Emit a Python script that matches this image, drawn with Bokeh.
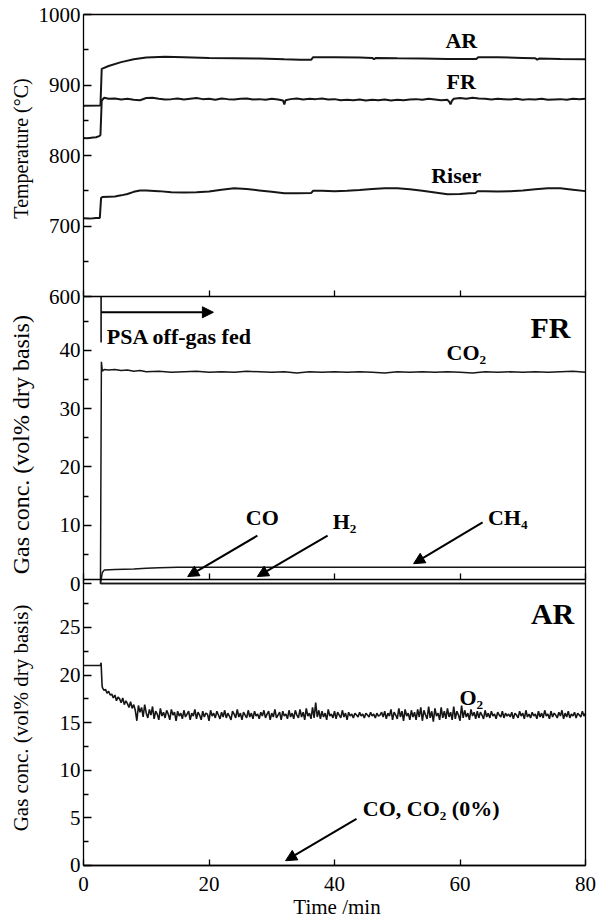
import math
from bokeh.plotting import figure
from bokeh.models import Range1d, LinearAxis, FixedTicker, Label, Arrow, NormalHead
from bokeh.embed import file_html
from bokeh.resources import INLINE

FONT = "Liberation Serif"
INK = "#161616"

# ---------------- ticks / labels ----------------
TIME_TICKS = [0, 20, 40, 60, 80]
TEMP_TICKS = [600, 700, 800, 900, 1000]
TEMP_MINOR = [650, 750, 850, 950]
FR_TICKS = [0, 10, 20, 30, 40]
FR_MINOR = [5, 15, 25, 35, 45]
AR_TICKS = [0, 5, 10, 15, 20, 25]
AR_MINOR = [2.5, 7.5, 12.5, 17.5, 22.5, 27.5]
X_TITLE = "Time /min"
TEMP_TITLE = "Temperature (\u00b0C)"
GAS_TITLE = "Gas conc. (vol% dry basis)"

# ---------------- panel 1: temperatures (deg C) ----------------
AR_TEMP_TIME = [0.0, 2.7, 2.9, 4.0, 6.0, 8.0, 10.0, 13.0, 16.0, 20.0,
                24.0, 28.0, 32.0, 34.5, 36.3, 36.6, 40.0, 44.0, 46.0, 46.3,
                46.6, 50.0, 54.0, 58.0, 62.6, 62.9, 66.0, 70.0, 72.0, 72.3,
                72.6, 76.0, 80.0]
AR_TEMP = [870.5, 871.0, 923.0, 927.0, 932.5, 936.5, 939.0, 940.0, 939.5, 938.5,
           938.0, 937.5, 936.5, 936.0, 936.0, 939.5, 939.5, 939.0, 938.5, 936.5,
           938.5, 938.0, 937.5, 937.0, 937.0, 939.5, 939.5, 938.5, 938.0, 936.0,
           937.5, 937.0, 936.5]

FR_TEMP_TIME = [0.0, 0.5, 1.0, 1.5, 2.0, 2.5, 2.7, 2.9, 3.3, 4.0,
                5, 6, 7, 8, 9, 10, 11, 12, 13, 14,
                15, 16, 17, 18, 19, 20, 21, 22, 23, 24,
                25, 26, 27, 28, 29, 30, 31, 31.8, 32.0, 32.2,
                33, 34, 35, 36, 37, 38, 39, 40, 41, 42,
                43, 44, 45, 46, 47, 48, 49, 50, 51, 52,
                53, 54, 55, 56, 57, 58, 58.3, 58.5, 58.7, 59,
                60, 61, 62, 63, 64, 65, 66, 67, 68, 69,
                70, 71, 72, 73, 74, 75, 76, 77, 78, 79,
                80]
FR_TEMP = [825.0, 824.5, 825.0, 825.5, 826.0, 827.5, 829.0, 878.0, 882.0, 880.5,
           881.0, 879.5, 880.5, 879.0, 878.5, 881.5, 882.0, 880.5, 879.5, 880.0,
           881.0, 879.5, 880.5, 881.5, 880.0, 880.5, 879.0, 881.0, 880.0, 879.5,
           880.5, 881.0, 879.5, 880.0, 879.0, 880.5, 879.5, 878.0, 872.5, 878.5,
           880.0, 881.0, 879.5, 880.5, 880.0, 881.0, 879.5, 880.0, 878.5, 879.0,
           878.5, 879.5, 878.0, 879.0, 878.5, 879.5, 878.0, 879.0, 878.5, 879.5,
           880.0, 879.0, 880.5, 879.5, 878.5, 879.0, 876.0, 872.5, 877.5, 880.5,
           881.5, 880.5, 882.0, 881.0, 880.5, 879.5, 880.5, 880.0, 879.5, 880.5,
           879.0, 880.0, 879.5, 880.5, 879.0, 879.5, 880.0, 879.0, 880.5, 880.0,
           880.5]

RISER_TEMP_TIME = [0, 1, 2, 2.6, 2.8, 3.0, 4, 5, 6, 7,
                   8, 9, 10, 12, 14, 16, 18, 20, 22, 24,
                   26, 28, 30, 32, 34, 36.3, 36.6, 38, 40, 42,
                   44, 46, 48, 50, 52, 54, 56, 58, 60, 61.5,
                   62.5, 62.8, 64, 66, 68, 70, 72, 74, 76, 78,
                   80]
RISER_TEMP = [711.0, 710.5, 711.5, 711.5, 740.0, 741.0, 741.5, 742.0, 743.5, 745.5,
              748.5, 750.5, 750.5, 749.5, 748.0, 747.5, 748.0, 749.0, 751.5, 753.5,
              752.5, 750.5, 748.5, 746.5, 746.5, 747.0, 750.0, 750.0, 749.5, 750.0,
              751.0, 752.5, 753.5, 753.5, 752.0, 750.0, 747.5, 745.0, 745.5, 746.5,
              747.0, 749.5, 749.5, 749.0, 749.5, 750.5, 752.0, 753.5, 753.5, 751.5,
              749.5]

# ---------------- panel 2: FR outlet gas (vol%) ----------------
FEED_START = 2.8
FR_CO2_TIME = [2.7, 2.85, 3.0, 3.3, 4, 5, 6, 7, 8, 9,
               10, 12, 14, 16, 18, 20, 22, 24, 26, 28,
               30, 32, 34, 36, 38, 40, 42, 44, 46, 48,
               50, 52, 54, 56, 58, 60, 62, 64, 66, 68,
               70, 72, 74, 76, 78, 80]
FR_CO2 = [0.0, 38.0, 36.4, 36.7, 36.6, 36.7, 36.5, 36.6, 36.4, 36.5,
          36.3, 36.4, 36.2, 36.3, 36.4, 36.2, 36.3, 36.2, 36.4, 36.3,
          36.2, 36.3, 36.1, 36.3, 36.2, 36.3, 36.2, 36.3, 36.2, 36.1,
          36.3, 36.2, 36.3, 36.2, 36.3, 36.2, 36.1, 36.3, 36.2, 36.3,
          36.2, 36.3, 36.2, 36.3, 36.4, 36.2]
FR_CH4_TIME = [2.7, 3.0, 3.3, 5, 8, 10, 12, 15, 20, 30, 40, 50, 60, 70, 80]
FR_CH4 = [0.0, 1.9, 2.3, 2.4, 2.5, 2.6, 2.7, 2.8, 2.8, 2.8, 2.8, 2.8, 2.8, 2.8, 2.8]
FR_CO_TIME = [2.7, 80]
FR_CO = [0.0, 0.0]
FR_H2_TIME = [2.7, 80]
FR_H2 = [0.0, 0.0]

# ---------------- panel 3: AR outlet gas (vol%) ----------------
AR_O2_TIME = [0.0, 2.7, 2.8, 2.95,
    3.0, 3.25, 3.5, 3.75, 4.0, 4.25, 4.5, 4.75, 5.0, 5.25, 5.5, 5.75, 6.0, 6.25, 6.5, 6.75, 7.0, 7.25, 7.5, 7.75,
    8.0, 8.25, 8.5, 8.75, 9.0, 9.25, 9.5, 9.75, 10.0, 10.25, 10.5, 10.75, 11.0, 11.25, 11.5, 11.75, 12.0, 12.25, 12.5, 12.75,
    13.0, 13.25, 13.5, 13.75, 14.0, 14.25, 14.5, 14.75, 15.0, 15.25, 15.5, 15.75, 16.0, 16.25, 16.5, 16.75, 17.0, 17.25, 17.5, 17.75,
    18.0, 18.25, 18.5, 18.75, 19.0, 19.25, 19.5, 19.75, 20.0, 20.25, 20.5, 20.75, 21.0, 21.25, 21.5, 21.75, 22.0, 22.25, 22.5, 22.75,
    23.0, 23.25, 23.5, 23.75, 24.0, 24.25, 24.5, 24.75, 25.0, 25.25, 25.5, 25.75, 26.0, 26.25, 26.5, 26.75, 27.0, 27.25, 27.5, 27.75,
    28.0, 28.25, 28.5, 28.75, 29.0, 29.25, 29.5, 29.75, 30.0, 30.25, 30.5, 30.75, 31.0, 31.25, 31.5, 31.75, 32.0, 32.25, 32.5, 32.75,
    33.0, 33.25, 33.5, 33.75, 34.0, 34.25, 34.5, 34.75, 35.0, 35.25, 35.5, 35.75, 36.0, 36.25, 36.5, 36.75, 37.0, 37.25, 37.5, 37.75,
    38.0, 38.25, 38.5, 38.75, 39.0, 39.25, 39.5, 39.75, 40.0, 40.25, 40.5, 40.75, 41.0, 41.25, 41.5, 41.75, 42.0, 42.25, 42.5, 42.75,
    43.0, 43.25, 43.5, 43.75, 44.0, 44.25, 44.5, 44.75, 45.0, 45.25, 45.5, 45.75, 46.0, 46.25, 46.5, 46.75, 47.0, 47.25, 47.5, 47.75,
    48.0, 48.25, 48.5, 48.75, 49.0, 49.25, 49.5, 49.75, 50.0, 50.25, 50.5, 50.75, 51.0, 51.25, 51.5, 51.75, 52.0, 52.25, 52.5, 52.75,
    53.0, 53.25, 53.5, 53.75, 54.0, 54.25, 54.5, 54.75, 55.0, 55.25, 55.5, 55.75, 56.0, 56.25, 56.5, 56.75, 57.0, 57.25, 57.5, 57.75,
    58.0, 58.25, 58.5, 58.75, 59.0, 59.25, 59.5, 59.75, 60.0, 60.25, 60.5, 60.75, 61.0, 61.25, 61.5, 61.75, 62.0, 62.25, 62.5, 62.75,
    63.0, 63.25, 63.5, 63.75, 64.0, 64.25, 64.5, 64.75, 65.0, 65.25, 65.5, 65.75, 66.0, 66.25, 66.5, 66.75, 67.0, 67.25, 67.5, 67.75,
    68.0, 68.25, 68.5, 68.75, 69.0, 69.25, 69.5, 69.75, 70.0, 70.25, 70.5, 70.75, 71.0, 71.25, 71.5, 71.75, 72.0, 72.25, 72.5, 72.75,
    73.0, 73.25, 73.5, 73.75, 74.0, 74.25, 74.5, 74.75, 75.0, 75.25, 75.5, 75.75, 76.0, 76.25, 76.5, 76.75, 77.0, 77.25, 77.5, 77.75,
    78.0, 78.25, 78.5, 78.75, 79.0, 79.25, 79.5, 79.75, 80.0]
AR_O2 = [21.0, 21.0, 21.3, 19.0,
    18.7, 18.4, 18.5, 18.1, 18.3, 17.9, 18.0, 17.6, 17.9, 17.3, 17.7, 17.5, 17.1, 17.6, 16.9, 17.3, 17.0, 16.6, 17.2, 16.5,
    16.9, 16.3, 15.2, 16.8, 16.1, 16.6, 15.6, 16.9, 16.0, 15.5, 16.4, 15.8, 16.7, 15.4, 16.2, 15.9, 15.3, 16.5, 15.7, 16.1,
    15.5, 16.3, 15.9, 15.3, 16.4, 15.8, 16.1, 15.2, 16.2, 15.7, 16.0, 15.4, 16.3, 15.6, 15.9, 16.2, 15.3, 16.0, 15.7, 16.4,
    15.4, 16.1, 15.8, 15.3, 16.2, 15.6, 16.0, 15.9, 15.2, 16.3, 15.7, 16.0, 15.5, 16.2, 15.8, 15.4, 16.1, 15.6, 16.3, 15.5,
    16.0, 15.7, 15.3, 16.2, 15.9, 15.5, 16.4, 15.6, 16.0, 15.3, 16.1, 15.8, 15.5, 16.3, 15.6, 16.0, 15.4, 16.2, 15.7, 15.9,
    15.4, 16.1, 15.7, 16.3, 15.5, 15.9, 16.2, 15.3, 16.0, 15.6, 16.4, 15.5, 15.8, 16.1, 15.3, 16.2, 15.7, 15.9, 15.4, 16.3,
    15.6, 16.0, 15.4, 16.3, 15.8, 15.5, 16.4, 15.6, 16.1, 15.3, 16.5, 15.7, 16.0, 15.4, 16.6, 15.5, 17.1, 15.6, 16.3, 15.4,
    16.2, 15.6, 16.0, 15.3, 16.4, 15.7, 15.9, 15.5, 16.2, 15.4, 16.1, 15.8, 15.5, 16.3, 15.6, 16.0, 15.3, 16.1, 15.7, 15.9,
    15.5, 16.0, 15.8, 15.6, 16.1, 15.7, 15.9, 15.5, 16.0, 15.8, 15.6, 16.1, 15.7, 15.9, 15.5, 16.0, 15.7, 15.8, 16.1, 15.6,
    16.2, 15.4, 16.0, 15.7, 16.4, 15.3, 16.1, 15.8, 15.4, 16.5, 15.6, 16.2, 15.2, 16.4, 15.7, 16.0, 15.3, 16.3, 15.6, 16.1,
    15.3, 16.4, 15.6, 16.6, 15.2, 16.3, 15.8, 15.4, 16.7, 15.5, 16.2, 15.1, 16.5, 15.7, 16.0, 15.3, 16.6, 15.5, 16.2, 15.4,
    16.5, 15.6, 16.1, 15.3, 16.7, 15.4, 16.2, 15.8, 15.2, 16.8, 15.5, 16.3, 15.6, 16.0, 15.3, 16.4, 15.7, 16.1, 15.4, 16.2,
    15.5, 16.1, 15.8, 15.4, 16.3, 15.6, 16.0, 15.5, 16.2, 15.7, 15.9, 15.4, 16.1, 15.8, 15.6, 16.2, 15.5, 16.0, 15.7, 15.9,
    15.6, 16.1, 15.4, 16.0, 15.8, 15.5, 16.2, 15.7, 16.0, 15.4, 16.3, 15.6, 15.9, 15.5, 16.1, 15.7, 15.9, 15.4, 16.2, 15.6,
    16.0, 15.5, 16.3, 15.7, 15.9, 15.4, 16.2, 15.6, 16.0, 15.8, 15.5, 16.1, 15.7, 16.3, 15.4, 16.0, 15.6, 16.2, 15.5, 15.9,
    15.7, 16.1, 15.5, 16.0, 15.8, 15.6, 16.2, 15.7, 16.0]
AR_COX_TIME = [0, 80]
AR_COX = [0.0, 0.0]

# ---------------- figure: one canvas, three stacked panels ----------------
# the frame covers the whole canvas; the visible panel boxes are drawn by axes
X_RANGE = Range1d(-13.23, 81.91)
Y_AR = Range1d(-5.78, 90.86)
Y_TEMP = Range1d(-285.1, 1019.9)
Y_FR = Range1d(-57.77, 99.95)

p = figure(width=597, height=920, x_range=X_RANGE, y_range=Y_AR,
           output_backend="svg", toolbar_location=None,
           x_axis_location=None, y_axis_location=None,
           min_border=0, min_border_left=0, min_border_right=0,
           min_border_top=0, min_border_bottom=0,
           background_fill_color="white", border_fill_color="white")
p.extra_y_ranges = {"temp": Y_TEMP, "fr": Y_FR}
p.grid.visible = False
p.outline_line_color = None


def frame_axis(ax, tick_in=0, minor_in=0):
    ax.axis_line_color = "black"
    ax.axis_line_width = 1.3
    ax.major_tick_line_color = "black"
    ax.major_tick_line_width = 1.3
    ax.minor_tick_line_color = "black"
    ax.minor_tick_line_width = 1.3
    ax.major_tick_in = tick_in
    ax.major_tick_out = 0
    ax.minor_tick_in = minor_in
    ax.minor_tick_out = 0
    ax.major_label_text_color = None
    return ax


# time axes: bottom of each panel (ticks pointing up into the panel)
for rng, loc in [("temp", 600), ("default", 30), ("default", 0)]:
    p.add_layout(frame_axis(LinearAxis(y_range_name=rng, fixed_location=loc, bounds=(0, 80),
                                       ticker=FixedTicker(ticks=TIME_TICKS, minor_ticks=[])), 6),
                 "below")
# top and right edges of the box
p.add_layout(frame_axis(LinearAxis(y_range_name="temp", fixed_location=1000, bounds=(0, 80),
                                   ticker=FixedTicker(ticks=[], minor_ticks=[]))), "above")
p.add_layout(frame_axis(LinearAxis(fixed_location=80, bounds=(0, 89.39),
                                   ticker=FixedTicker(ticks=[], minor_ticks=[]))), "right")

# left value axes of the three panels
PANELS = [("temp", TEMP_TICKS, TEMP_MINOR, (600, 1000), TEMP_TITLE, 810, "20px"),
          ("fr", FR_TICKS, FR_MINOR, (0, 49.2), GAS_TITLE, 23.8, "24px"),
          ("default", AR_TICKS, AR_MINOR, (0, 30), GAS_TITLE, 15.5, "21px")]
TICK_LABEL_X = -0.5
AXIS_TITLE_X = -10.0
for rng, ticks, minor, bounds, title, title_y, title_size in PANELS:
    p.add_layout(frame_axis(LinearAxis(y_range_name=rng, fixed_location=0, bounds=bounds,
                                       ticker=FixedTicker(ticks=ticks, minor_ticks=minor)), 8, 5),
                 "left")
    for t in ticks:
        p.add_layout(Label(x=TICK_LABEL_X, y=t, text=str(t), y_range_name=rng,
                           text_font=FONT, text_font_size="21px", text_color="black",
                           text_align="right", text_baseline="middle"))
    p.add_layout(Label(x=AXIS_TITLE_X, y=title_y, text=title, y_range_name=rng,
                       angle=math.pi / 2, text_font=FONT, text_font_size=title_size,
                       text_color="black", text_align="center", text_baseline="middle"))

# time tick labels and title under the bottom panel
TIME_LABEL_Y = -1.9
for t in TIME_TICKS:
    p.add_layout(Label(x=t, y=TIME_LABEL_Y, text=str(t), text_font=FONT, text_font_size="21px",
                       text_color="black", text_align="center", text_baseline="middle"))
p.add_layout(Label(x=40.4, y=-4.4, text=X_TITLE, text_font=FONT, text_font_size="21px",
                   text_color="black", text_align="center", text_baseline="middle"))

# ---- lines ----
p.line(AR_TEMP_TIME, AR_TEMP, y_range_name="temp", line_color=INK, line_width=2)
p.line(FR_TEMP_TIME, FR_TEMP, y_range_name="temp", line_color=INK, line_width=2)
p.line(RISER_TEMP_TIME, RISER_TEMP, y_range_name="temp", line_color=INK, line_width=2)

p.line(FR_CO2_TIME, FR_CO2, y_range_name="fr", line_color=INK, line_width=1.5)
p.line(FR_CH4_TIME, FR_CH4, y_range_name="fr", line_color=INK, line_width=1.5)
p.line(FR_CO_TIME, FR_CO, y_range_name="fr", line_color=INK, line_width=1.5)
p.line(FR_H2_TIME, FR_H2, y_range_name="fr", line_color=INK, line_width=1.5)

p.line(AR_O2_TIME, AR_O2, line_color=INK, line_width=1.6)
p.line(AR_COX_TIME, AR_COX, line_color=INK, line_width=1.3)


# ---- annotations ----
def lab(x, y, text, rng="default", size="22px", align="center"):
    p.add_layout(Label(x=x, y=y, text=text, y_range_name=rng, text_font=FONT,
                       text_font_style="bold", text_font_size=size, text_color="black",
                       text_align=align, text_baseline="middle"))


def arrow(x0, y0, x1, y1, rng="default"):
    p.add_layout(Arrow(x_start=x0, y_start=y0, x_end=x1, y_end=y1, y_range_name=rng,
                       line_color="black", line_width=2,
                       end=NormalHead(size=11, fill_color="black", line_color="black", line_width=1)))


lab(60.2, 963, "AR", "temp")
lab(60.2, 905, "FR", "temp")
lab(59.4, 771, "Riser", "temp")

lab(3.7, 42.4, "PSA off-gas fed", "fr", align="left")
lab(77.6, 43.9, "FR", "fr", size="30px", align="right")
lab(61.0, 39.6, "CO\u2082", "fr")
lab(28.5, 11.3, "CO", "fr")
lab(41.6, 10.6, "H\u2082", "fr")
lab(67.6, 11.3, "CH\u2084", "fr")
p.segment(x0=[FEED_START], y0=[41.3], x1=[FEED_START], y1=[49.2], y_range_name="fr",
          line_color="black", line_width=1.5)
arrow(FEED_START, 46.5, 20.7, 46.5, "fr")
arrow(27.7, 8.2, 16.6, 1.2, "fr")
arrow(38.9, 8.2, 27.7, 1.2, "fr")
arrow(63.6, 10.5, 52.6, 3.4, "fr")

lab(78.2, 26.5, "AR", size="30px", align="right")
lab(61.8, 17.6, "O\u2082")
lab(44.5, 6.0, "CO, CO\u2082 (0%)", align="left")
arrow(43.5, 4.9, 32.2, 0.5)

open("out.html", "w").write(file_html(p, INLINE))
